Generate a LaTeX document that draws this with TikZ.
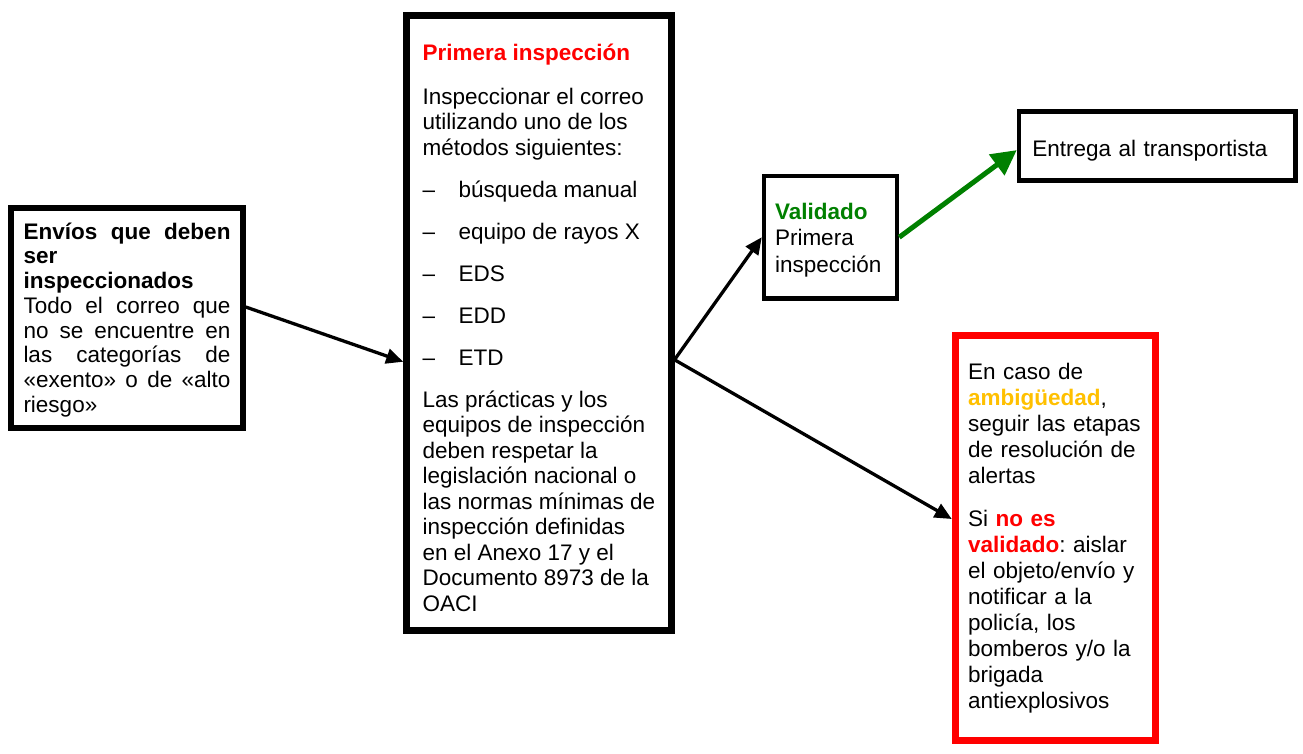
\documentclass[tikz,border=0pt]{standalone}
\usepackage{fontspec}
\setmainfont{Liberation Sans}
\usepackage{xcolor}
\usepackage{tikz}
\usetikzlibrary{arrows.meta}
\hyphenpenalty=10000
\exhyphenpenalty=10000
\tolerance=10000
\frenchspacing
\definecolor{okgreen}{RGB}{0,128,0}
\definecolor{ambar}{RGB}{255,192,0}
\tikzstyle{arrow}      = [line width=3.3pt,-{Triangle[length=17pt,width=15pt]}]
\tikzstyle{greenarrow} = [line width=5pt,okgreen,-{Triangle[length=25pt,width=25pt]}]
\newcommand{\itemdash}{\makebox[36pt][l]{--}}

\begin{document}
\begin{tikzpicture}[
    x=1pt, y=-1pt,
    box/.style={draw,rectangle,inner sep=4pt,align=left,
      font=\fontsize{22.5}{25.5}\selectfont},
  ]
  \useasboundingbox (0,0) rectangle (1303,753);

  \node[box,line width=5.5pt,minimum width=232pt,minimum height=220pt,
    text width=207pt,align=justify,font=\fontsize{22.5}{24.7}\selectfont]
    (envios) at (127,318) {%
    {\bfseries\rule{0pt}{20pt}Envíos~que~deben\linebreak
    ser\\
    inspeccionados}\\
    Todo~el~correo~que\linebreak
    no~se~encuentre~en\linebreak
    las~categorías~de\linebreak
    «exento»~o~de~«alto\linebreak
    riesgo»};

  \node[box,line width=7pt,minimum width=264.3pt,minimum height=614.5pt]
    (primera) at (538.85,322.75) {%
    \rule{0pt}{26pt}{\color{red}\bfseries Primera inspección}\\[18.5pt]
    Inspeccionar el correo\\
    utilizando uno de los\\
    métodos siguientes:\\[16.5pt]
    \itemdash búsqueda manual\\[16.5pt]
    \itemdash equipo de rayos X\\[16.5pt]
    \itemdash EDS\\[16.5pt]
    \itemdash EDD\\[16.5pt]
    \itemdash ETD\\[16.5pt]
    Las prácticas y los\\
    equipos de inspección\\
    deben respetar la\\
    legislación nacional o\\
    las normas mínimas de\\
    inspección definidas\\
    en el Anexo 17 y el\\
    Documento 8973 de la\\
    OACI};

  \node[box,line width=4.5pt,minimum width=133pt,minimum height=122.5pt,
    text width=111pt,font=\fontsize{22.5}{26.2}\selectfont]
    (validado) at (830.5,237.25) {%
    \rule{0pt}{22pt}{\color{okgreen}\bfseries Validado}\\
    Primera\\
    inspección};

  \node[box,line width=4.5pt,minimum width=276.5pt,minimum height=69pt,
    text width=250pt,text height=26pt] (entrega) at (1157.25,146.1)
    {Entrega al transportista};

  \node[box,draw=red,line width=7.5pt,minimum width=200pt,minimum height=405pt,
    text width=175pt,font=\fontsize{22.5}{26}\selectfont]
    (alerta) at (1055.5,538) {%
    En caso de\\
    {\color{ambar}\bfseries ambigüedad},\\
    seguir las etapas\\
    de resolución de\\
    alertas\\[17pt]
    Si {\color{red}\bfseries no es}\\
    {\color{red}\bfseries validado}: aislar\\
    el objeto/envío y\\
    notificar a la\\
    policía, los\\
    bomberos y/o la\\
    brigada\\
    antiexplosivos};

  % connectors
  \draw[arrow] ([yshift=11pt]envios.east) -- ([yshift=-39pt]primera.west);
  \draw[arrow] ([yshift=-37pt]primera.east) -- (validado.west);
  \draw[arrow] ([yshift=-37pt]primera.east) -- ([yshift=19pt]alerta.west);
  \draw[greenarrow] (validado.east) -- ([yshift=-4pt]entrega.west);
\end{tikzpicture}
\end{document}
